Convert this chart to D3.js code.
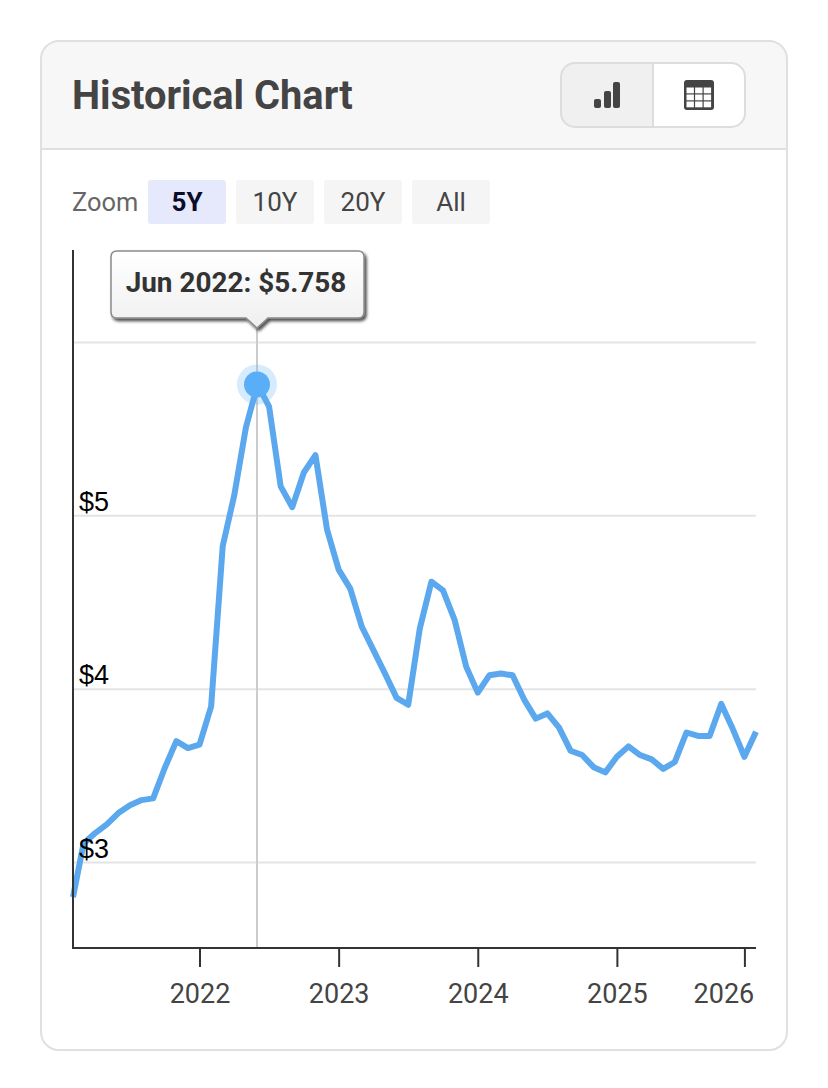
<!DOCTYPE html>
<html>
<head>
<meta charset="utf-8">
<style>html,body{margin:0;padding:0;background:#fff}svg{display:block}</style>
<script src="https://cdn.jsdelivr.net/npm/d3@7/dist/d3.min.js"></script>
</head>
<body>
<svg id="c" width="828" height="1088"></svg>
<script>
const title = "Historical Chart";
const zoomLabel = "Zoom";
const zoomOptions = ["5Y", "10Y", "20Y", "All"];
const activeZoom = "5Y";
// Monthly readings; Oct 2025 has no reading in the source, so the axis skips it.
const months = ["2021-02","2021-03","2021-04","2021-05","2021-06","2021-07","2021-08","2021-09","2021-10","2021-11","2021-12",
"2022-01","2022-02","2022-03","2022-04","2022-05","2022-06","2022-07","2022-08","2022-09","2022-10","2022-11","2022-12",
"2023-01","2023-02","2023-03","2023-04","2023-05","2023-06","2023-07","2023-08","2023-09","2023-10","2023-11","2023-12",
"2024-01","2024-02","2024-03","2024-04","2024-05","2024-06","2024-07","2024-08","2024-09","2024-10","2024-11","2024-12",
"2025-01","2025-02","2025-03","2025-04","2025-05","2025-06","2025-07","2025-08","2025-09","2025-11","2025-12",
"2026-01","2026-02"];
const prices = [2.80,3.11,3.17,3.22,3.285,3.33,3.36,3.37,3.545,3.70,3.66,
3.68,3.90,4.825,5.12,5.51,5.758,5.63,5.17,5.05,5.25,5.35,4.92,
4.69,4.58,4.36,4.225,4.09,3.95,3.91,4.35,4.62,4.57,4.40,4.13,
3.98,4.08,4.09,4.08,3.94,3.83,3.86,3.78,3.645,3.62,3.55,3.52,
3.61,3.67,3.62,3.595,3.54,3.58,3.75,3.73,3.73,3.915,3.77,
3.61,3.755];
const yearTicks = ["2022-01","2023-01","2024-01","2025-01","2026-01"];
const priceTicks = [3,4,5,6];
const priceLabels = {3:"$3",4:"$4",5:"$5"};
const highlight = "2022-06";
const tooltipText = "Jun 2022: $5.758";

const svg = d3.select("#c");
const defs = svg.append("defs");
const roboto = "Roboto, sans-serif";

const grad = defs.append("linearGradient").attr("id","tipGrad").attr("x1",0).attr("x2",0).attr("y1",0).attr("y2",1);
grad.append("stop").attr("offset","0%").attr("stop-color","#ffffff");
grad.append("stop").attr("offset","100%").attr("stop-color","#efefef");
const shadow = defs.append("filter").attr("id","tipShadow").attr("x","-10%").attr("y","-20%").attr("width","120%").attr("height","150%");
shadow.append("feDropShadow").attr("dx",2).attr("dy",2.5).attr("stdDeviation",1.8).attr("flood-color","#000").attr("flood-opacity",0.7);

// Card
const clipId = defs.append("clipPath").attr("id","card");
clipId.append("rect").attr("x",41).attr("y",41).attr("width",746).attr("height",1009).attr("rx",18);
svg.append("rect").attr("x",41).attr("y",41).attr("width",746).attr("height",1009).attr("rx",18).attr("fill","#fff");
svg.append("rect").attr("x",41).attr("y",41).attr("width",746).attr("height",108).attr("fill","#f7f7f7").attr("clip-path","url(#card)");
svg.append("line").attr("x1",41).attr("x2",787).attr("y1",149).attr("y2",149).attr("stroke","#e0e0e0").attr("stroke-width",2);
svg.append("rect").attr("x",41).attr("y",41).attr("width",746).attr("height",1009).attr("rx",18).attr("fill","none").attr("stroke","#e0e0e0").attr("stroke-width",2);

svg.append("text").attr("x",72).attr("y",109).attr("font-family",roboto).attr("font-weight",700).attr("font-size",39.8).attr("fill","#444").text(title);

// Toggle buttons
const groupClip = defs.append("clipPath").attr("id","toggle");
groupClip.append("rect").attr("x",561).attr("y",63).attr("width",184).attr("height",64).attr("rx",14);
svg.append("rect").attr("x",561).attr("y",63).attr("width",184).attr("height",64).attr("rx",14).attr("fill","#fff");
svg.append("rect").attr("x",561).attr("y",63).attr("width",92).attr("height",64).attr("fill","#f0f0f0").attr("clip-path","url(#toggle)");
svg.append("line").attr("x1",653).attr("x2",653).attr("y1",63).attr("y2",127).attr("stroke","#ddd").attr("stroke-width",2);
svg.append("rect").attr("x",561).attr("y",63).attr("width",184).attr("height",64).attr("rx",14).attr("fill","none").attr("stroke","#ddd").attr("stroke-width",2);
// Bar icon
[[594,99,7,9],[604,91,7,17],[613,82,7,26]].forEach(b=>{
  svg.append("rect").attr("x",b[0]).attr("y",b[1]).attr("width",b[2]).attr("height",b[3]).attr("rx",2).attr("fill","#444");
});
// Table icon
svg.append("rect").attr("x",684).attr("y",80).attr("width",30).attr("height",30).attr("rx",3).attr("fill","#444");
d3.range(3).forEach(r=>d3.range(3).forEach(c=>{
  svg.append("rect").attr("x",686.5+c*8.6).attr("y",87.5+r*7).attr("width",7.4).attr("height",5.8).attr("fill","#fff");
}));

// Zoom row
svg.append("text").attr("x",72).attr("y",211).attr("font-family",roboto).attr("font-size",25.4).attr("fill","#666").text(zoomLabel);
const zoomBand = d3.scaleBand().domain(zoomOptions).range([148,490]).paddingInner(10/88).paddingOuter(0);
const zg = svg.append("g").selectAll("g").data(zoomOptions).join("g");
zg.append("rect").attr("x",d=>zoomBand(d)).attr("y",180).attr("width",zoomBand.bandwidth()).attr("height",44).attr("rx",3)
  .attr("fill",d=>d===activeZoom?"#e6e9fb":"#f5f5f5");
zg.append("text").attr("x",d=>zoomBand(d)+zoomBand.bandwidth()/2).attr("y",211).attr("text-anchor","middle").attr("font-family",roboto)
  .attr("font-size",26).attr("font-weight",d=>d===activeZoom?700:400).attr("fill",d=>d===activeZoom?"#0b0b2a":"#444").text(d=>d);

// Scales
const x = d3.scalePoint().domain(months).range([72,756]);
const y = d3.scaleLinear().domain([3,6]).range([862.5,342.5]);
const plotBottom = 948, plotTop = 250, plotLeft = 73, plotRight = 756;

// Grid
svg.append("g").selectAll("line").data(priceTicks).join("line")
  .attr("x1",plotLeft).attr("x2",plotRight).attr("y1",d=>y(d)).attr("y2",d=>y(d))
  .attr("stroke","#e4e4e4").attr("stroke-width",2);

// Crosshair
svg.append("line").attr("x1",x(highlight)-0.5).attr("x2",x(highlight)-0.5).attr("y1",326).attr("y2",plotBottom)
  .attr("stroke","#cccccc").attr("stroke-width",2);

// Line
const line = d3.line().x((d,i)=>Math.max(x(months[i]),plotLeft)).y(d=>y(d)).curve(d3.curveLinear);
svg.append("path").datum(prices).attr("d",line).attr("fill","none").attr("stroke","#5ba8ee").attr("stroke-width",6).attr("stroke-linejoin","round");

// Y labels
svg.append("g").selectAll("text").data(priceTicks.filter(d=>priceLabels[d])).join("text")
  .attr("x",79).attr("y",d=>y(d)-5).attr("font-family","'Liberation Sans', Arial, sans-serif").attr("font-size",27).attr("fill","#000")
  .text(d=>priceLabels[d]);

// Axes
const xAxis = d3.axisBottom(x).tickValues(yearTicks).tickSize(19).tickPadding(17).tickFormat(d=>d.slice(0,4));
const gx = svg.append("g").attr("transform",`translate(0,${plotBottom})`).call(xAxis);
gx.select(".domain").attr("d",`M${plotLeft-1},0H${plotRight}`).attr("stroke","#333").attr("stroke-width",2);
gx.selectAll(".tick line").attr("stroke","#333").attr("stroke-width",2);
gx.selectAll(".tick text").attr("font-family",roboto).attr("font-size",27).attr("fill","#444").attr("dy","0.71em");
gx.selectAll(".tick").filter(d=>d==="2026-01").select("text").attr("dx",-21);
svg.append("line").attr("x1",plotLeft).attr("x2",plotLeft).attr("y1",plotTop).attr("y2",plotBottom+1).attr("stroke","#333").attr("stroke-width",2);

// Highlight marker
const hx = x(highlight)-0.5, hv = prices[months.indexOf(highlight)];
svg.append("circle").attr("cx",hx).attr("cy",y(hv)).attr("r",20).attr("fill","#5aaef8").attr("opacity",0.25);
svg.append("circle").attr("cx",hx).attr("cy",y(hv)).attr("r",13).attr("fill","#5aaef8");

// Tooltip
const tip = svg.append("g").attr("filter","url(#tipShadow)");
const tx0=111, tx1=364, ty0=251, ty1=318, r=6;
tip.append("path").attr("d",
  `M${tx0+r},${ty0}H${tx1-r}Q${tx1},${ty0} ${tx1},${ty0+r}V${ty1-r}Q${tx1},${ty1} ${tx1-r},${ty1}`+
  `H${hx+11}L${hx},${ty1+10}L${hx-11},${ty1}H${tx0+r}Q${tx0},${ty1} ${tx0},${ty1-r}V${ty0+r}Q${tx0},${ty0} ${tx0+r},${ty0}Z`)
  .attr("fill","url(#tipGrad)").attr("stroke","#8a8a8a").attr("stroke-width",1.5);
svg.append("text").attr("x",236).attr("y",292).attr("text-anchor","middle").attr("font-family",roboto)
  .attr("font-weight",700).attr("font-size",27.9).attr("fill","#333").text(tooltipText);
</script>
</body>
</html>
